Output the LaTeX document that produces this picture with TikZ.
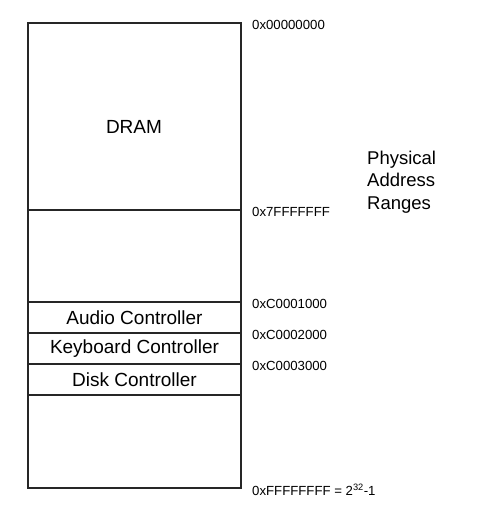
\documentclass[tikz,border=0pt]{standalone}
\usepackage{fontspec}
\setmainfont{Liberation Sans}
\usetikzlibrary{positioning}

\begin{document}
\begin{tikzpicture}[x=1pt,y=-1pt,
        region/.style={draw=black!85,line width=1.2pt,minimum width=213pt,inner sep=0pt,outer sep=0pt,
            font=\fontsize{19}{22}\selectfont},
        addr/.style={anchor=west,inner sep=0pt,font=\fontsize{13.2}{15}\selectfont}]
        \useasboundingbox (0,0) rectangle (486,515);
        % the memory column, top to bottom
        \node[region,minimum height=187pt,anchor=north west] (dram) at (28,23) {};
        \node[region,minimum height=92pt,below=0pt of dram] (hole) {};
        \node[region,minimum height=31pt,below=0pt of hole] (audio) {Audio Controller};
        \node[region,minimum height=31pt,below=0pt of audio] (keyb) {Keyboard Controller};
        \node[region,minimum height=31pt,below=0pt of keyb] (disk) {Disk Controller};
        \node[region,minimum height=93pt,below=0pt of disk] (rest) {};
        \node[font=\fontsize{19}{22}\selectfont] (dramtext) at (134,127) {DRAM};
        % addresses on the right
        \node[addr] (a0) at ([shift={(11,2)}]dram.north east) {0x00000000};
        \node[addr] (a1) at ([shift={(11,2)}]dram.south east) {0x7FFFFFFF};
        \node[addr] (a2) at ([shift={(11,2)}]audio.north east) {0xC0001000};
        \node[addr] (a3) at ([shift={(11,2)}]keyb.north east) {0xC0002000};
        \node[addr] (a4) at ([shift={(11,2)}]disk.north east) {0xC0003000};
        \node[addr] (a5) at ([shift={(11,2)}]rest.south east) {0xFFFFFFFF = 2\textsuperscript{32}-1};
        \node[anchor=west,align=left,inner sep=0pt,font=\fontsize{18.5}{22.5}\selectfont] (title) at (367,182) {Physical\\Address\\Ranges};
    \end{tikzpicture}
\end{document}
